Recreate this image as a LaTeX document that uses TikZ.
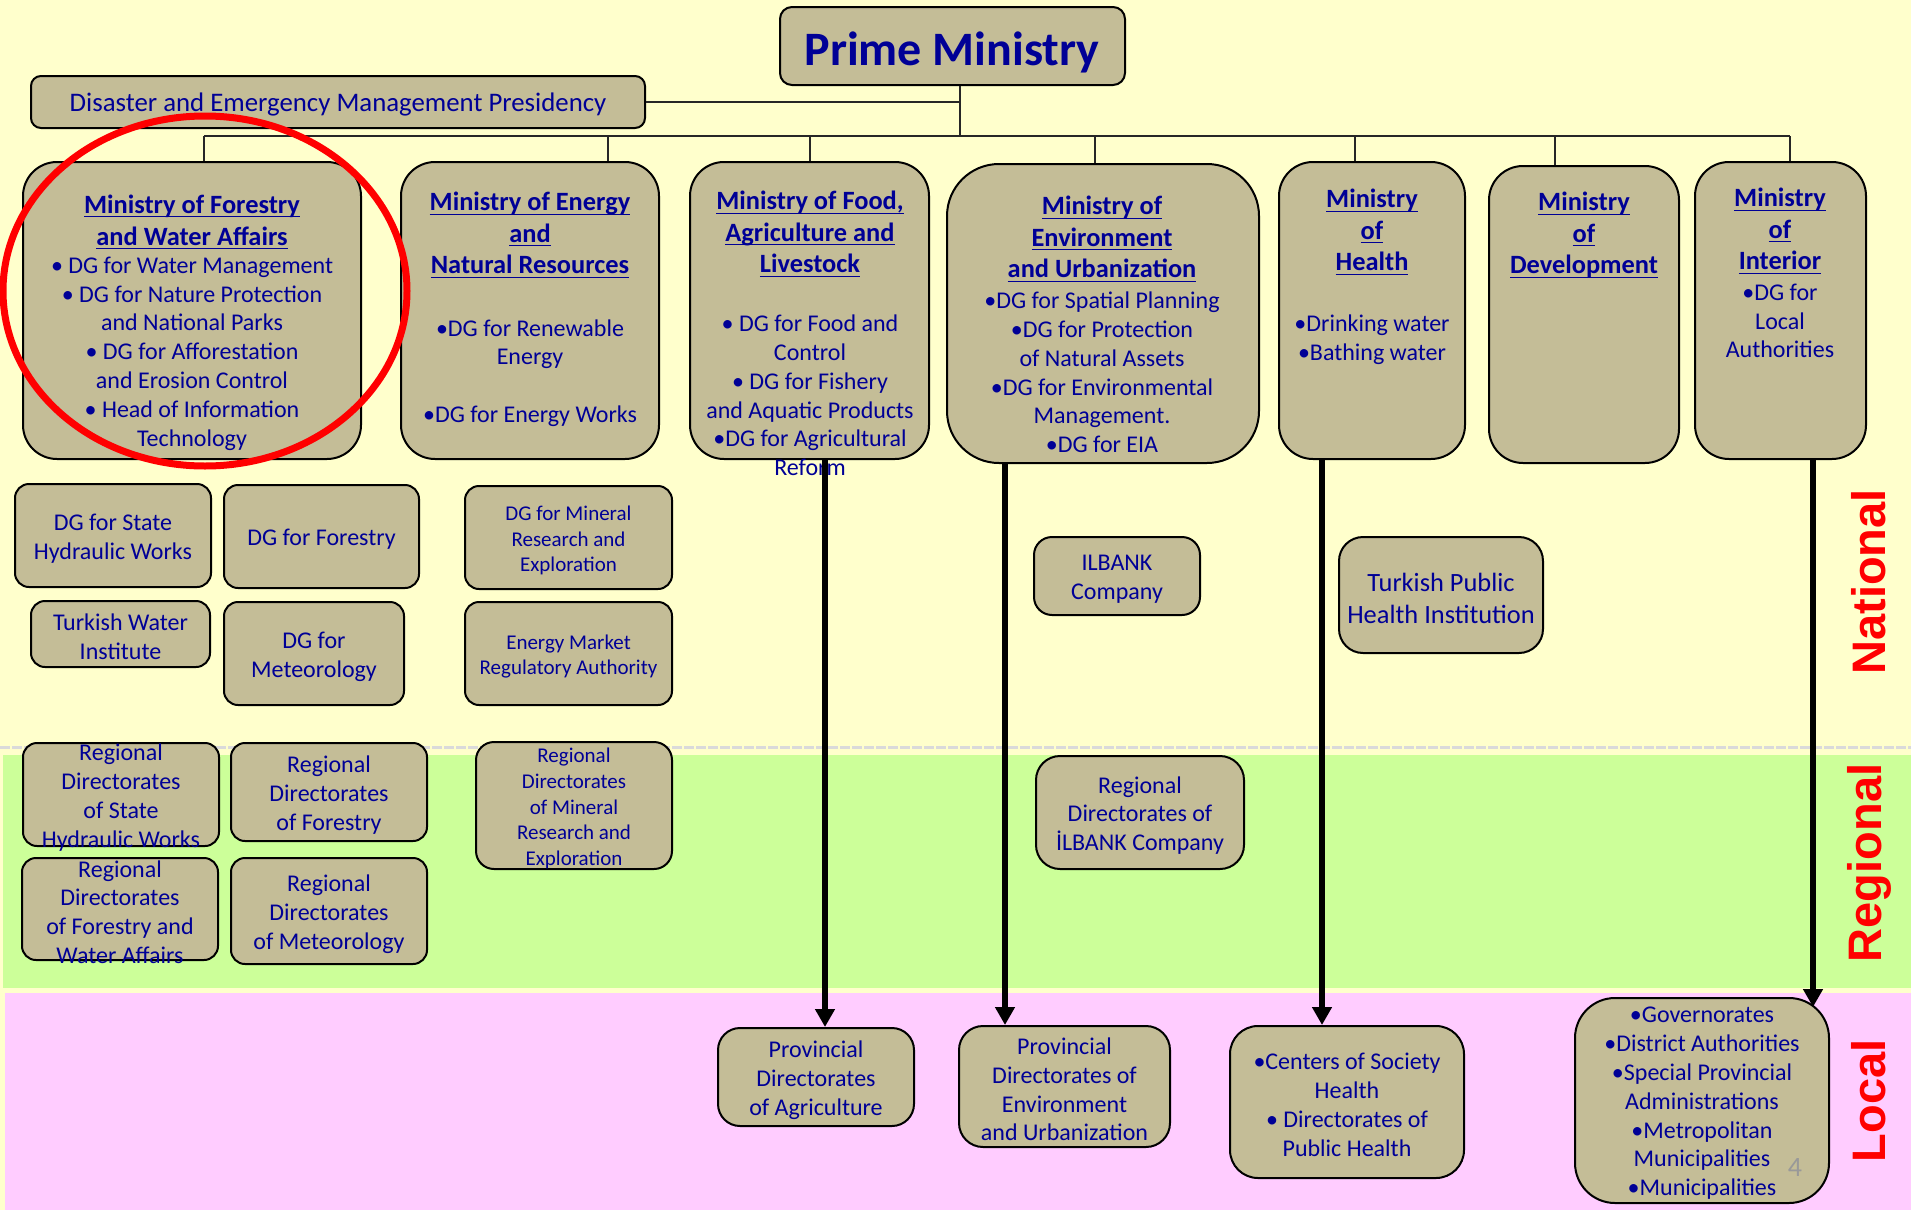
\documentclass[tikz,border=0pt]{standalone}
\usepackage{amsmath}
\usepackage{fontspec}
\setmainfont{Carlito}
\newfontfamily\sidefont{Liberation Sans}
\usetikzlibrary{fit,arrows.meta}
\definecolor{bgY}{RGB}{255,255,204}
\definecolor{bgG}{RGB}{204,255,153}
\definecolor{bgP}{RGB}{255,204,255}
\definecolor{tanF}{RGB}{196,189,151}
\definecolor{navyT}{RGB}{0,0,150}
\definecolor{dashG}{RGB}{218,218,218}
\newcommand\fBody{\fontsize{12}{14.4}\selectfont}
\newcommand\fSmall{\fontsize{10.5}{12.8}\selectfont}
\newcommand\fHead{\fontsize{13.2}{15.8}\selectfont\bfseries}
\newcommand\fPrime{\fontsize{24}{28}\selectfont\bfseries}
\newcommand\fDis{\fontsize{13.4}{16}\selectfont}
\newcommand\fTph{\fontsize{13.2}{16}\selectfont}
\newcommand\fSide{\sidefont\fontsize{23.5}{26}\selectfont\bfseries}
\newcommand\hu[1]{\underline{\smash[b]{#1}}}
\begin{document}
\begin{tikzpicture}[x=0.5pt,y=-0.5pt,
  bx/.style={draw=black, line width=1pt, fill=tanF, inner sep=0pt},
  mbox/.style={bx, rounded corners=17pt},
  sbox/.style={bx, rounded corners=7pt},
  hd/.style={text=navyT, align=center, inner sep=0pt, font=\fHead},
  bd/.style={text=navyT, align=center, inner sep=0pt, font=\fBody},
  bt/.style={bd, yshift=-1.5pt},
  sm/.style={bt, font=\fSmall},
  conn/.style={draw=black!85, line width=0.8pt},
  tarr/.style={draw=black, line width=3pt, -{Triangle[width=9.5pt,length=9pt]}},
  side/.style={text=red, font=\fSide, inner sep=0pt, rotate=90}]
\useasboundingbox (0,0) rectangle (1911,1210);
% backgrounds
\fill[bgY] (0,0) rectangle (1911,1210);
\fill[bgG] (3,755) rectangle (1911,988);
\fill[bgP] (5,993) rectangle (1911,1210);
\draw[dashG, line width=1.5pt, dash pattern=on 5pt off 1pt] (0,747) -- (1911,747);

% top boxes
\node[bx, rounded corners=6pt, fit={(780,7) (1125,85)}] (prime) {};
\node[text=navyT, font=\fPrime, inner sep=0pt] (primeT) at (952,52) {Prime Ministry};
\node[bx, rounded corners=5pt, fit={(31,76) (645,128)}] (dis) {};
\node[text=navyT, font=\fDis, inner sep=0pt] (disT) at (338,104) {Disaster and Emergency Management Presidency};

% ministries
\node[mbox, fit={(23,162) (361,459)}] (forestry) {};
\node[mbox, fit={(401,162) (659,459)}] (energy) {};
\node[mbox, fit={(690,162) (929,459)}] (food) {};
\node[mbox, rounded corners=26pt, fit={(947,164) (1259,463)}] (env) {};
\node[mbox, fit={(1279,162) (1465,459)}] (health) {};
\node[mbox, fit={(1489,166) (1679,463)}] (dev) {};
\node[mbox, fit={(1695,162) (1866,459)}] (interior) {};

% connectors
\coordinate (trunk) at (960,136);
\coordinate (d1) at (204,136);
\coordinate (d2) at (608,136);
\coordinate (d3) at (810,136);
\coordinate (d4) at (1095,136);
\coordinate (d5) at (1355,136);
\coordinate (d6) at (1555,136);
\coordinate (d7) at (1790,136);
\draw[conn] (prime.south -| trunk) -- (trunk);
\draw[conn] (dis.east) -- (dis.east -| trunk);
\draw[conn] (d1) -- (d7);
\foreach \c/\n in {d1/forestry,d2/energy,d3/food,d4/env,d5/health,d6/dev,d7/interior}
  \draw[conn] (\c) -- (\c |- \n.north);

% ministry texts
\node[hd] (forestryH) at (192,222.5) {\hu{Ministry of Forestry}\\\hu{and Water Affairs}};
\node[bd] (forestryB) at (192,353.5) {• DG for Water Management\\• DG for Nature Protection\\and National Parks\\• DG for Afforestation\\and Erosion Control\\• Head of Information\\Technology};
\node[hd] (energyH) at (530,235.5) {\hu{Ministry of Energy}\\\hu{and}\\\hu{Natural Resources}};
\node[bd] (energyB) at (530,373) {•DG for Renewable\\Energy\\[14.4pt]•DG for Energy Works};
\node[hd] (foodH) at (810,234.5) {\hu{Ministry of Food,}\\\hu{Agriculture and}\\\hu{Livestock}};
\node[bd] (foodB) at (810,395.5) {• DG for Food and\\Control\\• DG for Fishery\\and Aquatic Products\\•DG for Agricultural\\Reform};
\node[hd] (envH) at (1102,239.5) {\hu{Ministry of}\\\hu{Environment}\\\hu{and Urbanization}};
\node[bd] (envB) at (1102,372.5) {•DG for Spatial Planning\\•DG for Protection\\of Natural Assets\\•DG for Environmental\\Management.\\•DG for EIA};
\node[hd] (healthH) at (1372,232.5) {\hu{Ministry}\\\hu{of}\\\hu{Health}};
\node[bd] (healthB) at (1372,340) {•Drinking water\\•Bathing water};
\node[hd] (devH) at (1584,235.5) {\hu{Ministry}\\\hu{of}\\\hu{Development}};
\node[hd] (interiorH) at (1780,231.5) {\hu{Ministry}\\\hu{of}\\\hu{Interior}};
\node[bd] (interiorB) at (1780,321) {•DG for\\Local\\Authorities};

% national small boxes
\node[sbox, fit={(15,484) (211,587)}] (dsh) {};
\node[bt] (dshT) at (dsh.center) {DG for State\\Hydraulic Works};
\node[sbox, fit={(224,485) (419,588)}] (dgf) {};
\node[bt] (dgfT) at (dgf.center) {DG for Forestry};
\node[sbox, fit={(31,601) (210,667)}] (twi) {};
\node[bt] (twiT) at (twi.center) {Turkish Water\\Institute};
\node[sbox, fit={(224,602) (404,705)}] (met) {};
\node[bt] (metT) at (met.center) {DG for\\Meteorology};
\node[sbox, fit={(465,486) (672,589)}] (mine) {};
\node[sm] (mineT) at (mine.center) {DG for Mineral\\Research and\\Exploration};
\node[sbox, fit={(465,602) (672,705)}] (emr) {};
\node[sm] (emrT) at (emr.center) {Energy Market\\Regulatory Authority};
\node[sbox, rounded corners=9pt, fit={(1034,537) (1200,615)}] (ilb) {};
\node[bt] (ilbT) at (ilb.center) {ILBANK\\Company};
\node[sbox, rounded corners=12pt, fit={(1339,537) (1543,653)}] (tph) {};
\node[bt, font=\fTph] (tphT) at (tph.center) {Turkish Public\\Health Institution};

% regional boxes
\node[sbox, fit={(23,743) (219,846)}] (rdsh) {};
\node[bt] (rdshT) at (rdsh.center) {Regional\\Directorates\\of State\\Hydraulic Works};
\node[sbox, fit={(231,743) (427,841)}] (rdf) {};
\node[bt] (rdfT) at (rdf.center) {Regional\\Directorates\\of Forestry};
\node[sbox, rounded corners=9pt, fit={(476,742) (672,869)}] (rmin) {};
\node[sm] (rminT) at (rmin.center) {Regional\\Directorates\\of Mineral\\Research and\\Exploration};
\node[sbox, fit={(22,858) (218,960)}] (rfw) {};
\node[bt] (rfwT) at (rfw.center) {Regional\\Directorates\\of Forestry and\\Water Affairs};
\node[sbox, fit={(231,858) (427,964)}] (rmet) {};
\node[bt] (rmetT) at (rmet.center) {Regional\\Directorates\\of Meteorology};
\node[sbox, rounded corners=12pt, fit={(1036,756) (1244,869)}] (rilb) {};
\node[bt] (rilbT) at (rilb.center) {Regional\\Directorates of\\İLBANK Company};

% local boxes
\node[sbox, rounded corners=11pt, fit={(718,1028) (914,1126)}] (agri) {};
\node[bt] (agriT) at (agri.center) {Provincial\\Directorates\\of Agriculture};
\node[sbox, rounded corners=12pt, fit={(959,1026) (1170,1147)}] (penv) {};
\node[bt] (penvT) at (penv.center) {Provincial\\Directorates of\\Environment\\and Urbanization};
\node[sbox, rounded corners=14pt, fit={(1230,1026) (1464,1178)}] (phe) {};
\node[bt] (pheT) at (phe.center) {•Centers of Society\\Health\\• Directorates of\\Public Health};
\node[sbox, rounded corners=20pt, fit={(1575,998) (1829,1203)}] (loc) {};
\node[bt] (locT) at (loc.center) {•Governorates\\•District Authorities\\•Special Provincial\\Administrations\\•Metropolitan\\Municipalities\\•Municipalities};

% thick arrows
\coordinate (a1) at (825,0);
\coordinate (a2) at (1005,0);
\coordinate (a3) at (1322,0);
\coordinate (a4end) at (1813,1007);
\draw[tarr] (food.south -| a1) -- (agri.north -| a1);
\draw[tarr] (env.south -| a2) -- (penv.north -| a2);
\draw[tarr] (health.south -| a3) -- (phe.north -| a3);
\draw[tarr] (interior.south -| a4end) -- (a4end);

% page number
\node[text=black!40, font=\fontsize{14}{16}\selectfont, inner sep=0pt] (pnum) at (1795,1167) {4};

% side labels
\node[side] (natl) at (1869,582) {National};
\node[side] (regl) at (1869,863) {Regional};
\node[side] (locl) at (1869,1101) {Local};

% highlight ellipse
\draw[red, line width=3.5pt] (205,291) ellipse [x radius=202, y radius=175];
\end{tikzpicture}
\end{document}
